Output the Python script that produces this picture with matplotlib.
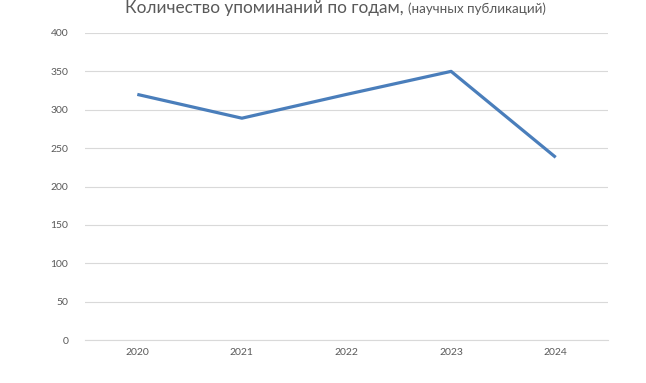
import matplotlib
matplotlib.use("Agg")
import matplotlib.pyplot as plt

years = ["2020", "2021", "2022", "2023", "2024"]
mentions = [320, 289, 320, 350, 238]
yticks = [0, 50, 100, 150, 200, 250, 300, 350, 400]

plt.rcParams['font.family'] = ['Lato', 'DejaVu Sans']
grey = '#595959'

fig = plt.figure(figsize=(6.46, 3.83), dpi=100)
ax = fig.add_axes([85/646, 43/383, 523/646, 307/383])

x = list(range(len(years)))
ax.plot(x, mentions, color='#4a7ebb', linewidth=2.3, solid_capstyle='butt')
ax.set_xlim(-0.5, len(years) - 0.5)
ax.set_ylim(0, 400)
ax.set_yticks(yticks)
ax.set_xticks(x)
ax.set_xticklabels(years)
ax.grid(axis='y', color='#d9d9d9', linewidth=0.8)
ax.set_axisbelow(True)
for s in ['top', 'right', 'left']:
    ax.spines[s].set_visible(False)
ax.spines['bottom'].set_color('#d9d9d9')
ax.spines['bottom'].set_linewidth(0.8)
ax.tick_params(length=0, labelsize=7.5, labelcolor=grey)
ax.tick_params(axis='y', pad=12)
ax.tick_params(axis='x', pad=6)

# title in two sizes
ty = (383 - 13) / 383
t1 = fig.text(125/646, ty, "Количество упоминаний по годам, ", fontsize=12.4,
              color=grey, va='baseline', ha='left')
fig.canvas.draw()
bb = t1.get_window_extent()
fig.text(bb.x1 / fig.bbox.width, ty, "(научных публикаций)", fontsize=9.6,
         color=grey, va='baseline', ha='left')

fig.savefig("out.png", dpi=100)
